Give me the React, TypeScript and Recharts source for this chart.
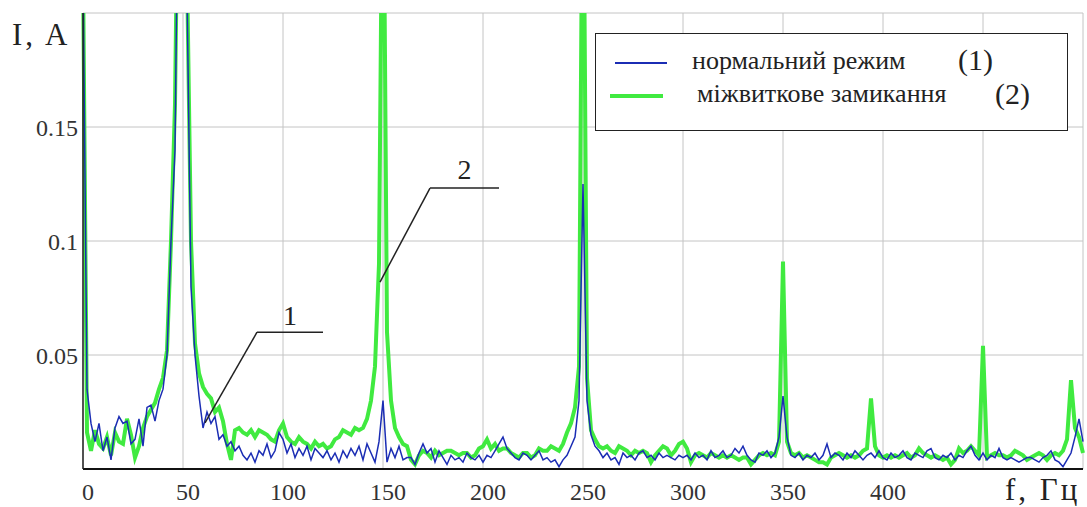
import React from "react";
import {
  LineChart,
  Line,
  XAxis,
  YAxis,
  CartesianGrid,
  Legend,
  ReferenceLine,
} from "recharts";

// spectrum samples, one every FREQ_STEP Hz starting at 0 Hz
const FREQ_STEP = 2;

// (1) normal mode, I in A
const normalMode = [
  0.22, 0.035, 0.02, 0.012, 0.02, 0.008, 0.014, 0.004, 0.018, 0.023,
  0.02, 0.021, 0.011, 0.013, 0.022, 0.01, 0.027, 0.028, 0.021, 0.03,
  0.035, 0.05, 0.1, 0.14, 0.3, 0.3, 0.21, 0.08, 0.05, 0.032,
  0.018, 0.025, 0.02, 0.023, 0.013, 0.015, 0.01, 0.012, 0.008, 0.01,
  0.006, 0.004, 0.007, 0.003, 0.008, 0.006, 0.011, 0.005, 0.008, 0.016,
  0.013, 0.007, 0.011, 0.005, 0.009, 0.006, 0.01, 0.004, 0.009, 0.007,
  0.005, 0.008, 0.004, 0.007, 0.003, 0.008, 0.005, 0.009, 0.006, 0.01,
  0.004, 0.011, 0.007, 0.003, 0.012, 0.03, 0.003, 0.009, 0.005, 0.01,
  0.004, 0.005, 0.005, 0.002, 0.007, 0.011, 0.007, 0.009, 0.003, 0.008,
  0.005, 0.002, 0.006, 0.004, 0.005, 0.003, 0.007, 0.005, 0.004, 0.006,
  0.003, 0.006, 0.005, 0.008, 0.011, 0.014, 0.009, 0.007, 0.005, 0.004,
  0.007, 0.006, 0.004, 0.006, 0.008, 0.004, 0.005, 0.003, 0.004, 0.001,
  0.004, 0.006, 0.01, 0.014, 0.03, 0.125, 0.03, 0.015, 0.01, 0.008,
  0.005, 0.007, 0.004, 0.005, 0.002, 0.007, 0.005, 0.006, 0.004, 0.007,
  0.008, 0.005, 0.006, 0.004, 0.007, 0.005, 0.006, 0.005, 0.004, 0.006,
  0.005, 0.006, 0.004, 0.007, 0.005, 0.006, 0.004, 0.008, 0.005, 0.006,
  0.008, 0.005, 0.006, 0.009, 0.007, 0.01, 0.006, 0.004, 0.003, 0.007,
  0.006, 0.008, 0.005, 0.007, 0.014, 0.032, 0.014, 0.006, 0.005, 0.007,
  0.004, 0.006, 0.005, 0.007, 0.004, 0.006, 0.011, 0.005, 0.007, 0.006,
  0.004, 0.007, 0.005, 0.008, 0.006, 0.004, 0.006, 0.007, 0.005, 0.008,
  0.005, 0.004, 0.007, 0.005, 0.006, 0.008, 0.005, 0.004, 0.007, 0.006,
  0.005, 0.008, 0.009, 0.005, 0.004, 0.006, 0.005, 0.007, 0.004, 0.006,
  0.005, 0.008, 0.01, 0.006, 0.004, 0.007, 0.004, 0.006, 0.005, 0.009,
  0.005, 0.004, 0.005, 0.004, 0.003, 0.004, 0.005, 0.005, 0.004, 0.003,
  0.005, 0.006, 0.008, 0.004, 0.003, 0.001, 0.004, 0.007, 0.014, 0.022,
  0.012,
];

// (2) inter-turn short circuit, I in A
const turnFault = [
  0.22, 0.016, 0.008, 0.017, 0.011, 0.009, 0.014, 0.006, 0.016, 0.012,
  0.011, 0.022, 0.015, 0.005, 0.01, 0.018, 0.023, 0.026, 0.029, 0.035,
  0.04, 0.052, 0.1, 0.16, 0.3, 0.3, 0.22, 0.1, 0.055, 0.042,
  0.036, 0.033, 0.031, 0.025, 0.027, 0.021, 0.011, 0.004, 0.017, 0.018,
  0.016, 0.015, 0.017, 0.014, 0.017, 0.016, 0.015, 0.013, 0.012, 0.017,
  0.02, 0.014, 0.012, 0.011, 0.014, 0.012, 0.011, 0.009, 0.012, 0.01,
  0.011, 0.009, 0.01, 0.013, 0.014, 0.017, 0.016, 0.015, 0.018, 0.017,
  0.018, 0.022, 0.03, 0.045, 0.09, 0.3, 0.06, 0.03, 0.018, 0.014,
  0.011, 0.01, 0.004, 0.002, 0.006, 0.008, 0.007, 0.005, 0.008, 0.006,
  0.007, 0.008, 0.008, 0.007, 0.006, 0.007, 0.007, 0.005, 0.006, 0.009,
  0.01, 0.013, 0.009, 0.011, 0.008, 0.009, 0.009, 0.007, 0.006, 0.005,
  0.007, 0.007, 0.005, 0.006, 0.009, 0.008, 0.008, 0.01, 0.009, 0.008,
  0.011, 0.016, 0.02, 0.027, 0.045, 0.3, 0.04, 0.017, 0.013, 0.01,
  0.009, 0.01, 0.008, 0.007, 0.01, 0.009, 0.008, 0.006, 0.008, 0.007,
  0.008, 0.007, 0.003, 0.006, 0.008, 0.01, 0.009, 0.006, 0.008, 0.011,
  0.012, 0.009, 0.003, 0.006, 0.007, 0.006, 0.005, 0.007, 0.006, 0.005,
  0.006, 0.005, 0.006, 0.005, 0.004, 0.005, 0.005, 0.002, 0.004, 0.006,
  0.007, 0.006, 0.007, 0.006, 0.012, 0.091, 0.012, 0.007, 0.006, 0.007,
  0.005, 0.006, 0.005, 0.004, 0.003, 0.003, 0.002, 0.005, 0.006, 0.007,
  0.006, 0.005, 0.006, 0.005, 0.006, 0.008, 0.009, 0.031, 0.01, 0.006,
  0.005, 0.006, 0.005, 0.006, 0.005, 0.006, 0.007, 0.005, 0.006, 0.009,
  0.007, 0.006, 0.005, 0.006, 0.005, 0.004, 0.005, 0.002, 0.004, 0.009,
  0.007, 0.008, 0.01, 0.008, 0.006, 0.054, 0.005, 0.006, 0.007, 0.006,
  0.006, 0.005, 0.006, 0.008, 0.007, 0.006, 0.004, 0.005, 0.006, 0.007,
  0.006, 0.004, 0.006, 0.007, 0.006, 0.008, 0.013, 0.039, 0.018, 0.014,
  0.007,
];

const xTicks = [0, 50, 100, 150, 200, 250, 300, 350, 400, 450, 500];
const xTickLabels = [0, 50, 100, 150, 200, 250, 300, 350, 400];
const yTicks = [0, 0.05, 0.1, 0.15, 0.2];
const yTickLabels = ["", "0.05", "0.1", "0.15", ""];

// leader lines for the "1" and "2" callouts, in (Hz, A)
const callout1 = [
  { x: 61, y: 0.0202 },
  { x: 87, y: 0.06 },
  { x: 120, y: 0.06 },
];
const callout2 = [
  { x: 148.5, y: 0.082 },
  { x: 173.5, y: 0.1232 },
  { x: 208, y: 0.1232 },
];

const SERIF = '"Liberation Serif", "Times New Roman", serif';
const BLUE = "#1b2db4";
const GREEN = "#40ea40";

const chartData = normalMode.map((v, i) => ({
  f: i * FREQ_STEP,
  normal: v,
  fault: turnFault[i],
}));

const XTick = (props: any) => {
  const { x, y, payload } = props;
  if (!xTickLabels.includes(payload.value)) return <g />;
  return (
    <text x={x + 5} y={y + 31} textAnchor="middle" fill="#333" fontSize={24} fontFamily={SERIF}>
      {payload.value}
    </text>
  );
};

const YTick = (props: any) => {
  const { x, y, payload } = props;
  const label = yTickLabels[yTicks.indexOf(payload.value)] ?? "";
  if (!label) return <g />;
  return (
    <text x={x - 5} y={y + 9} textAnchor="end" fill="#333" fontSize={24} fontFamily={SERIF}>
      {label}
    </text>
  );
};

const LegendBox = () => (
  <div
    style={{
      position: "relative",
      width: 473,
      height: 98,
      boxSizing: "border-box",
      border: "1.5px solid #222",
      background: "#fff",
      fontFamily: SERIF,
      color: "#222",
    }}
  >
    <div style={{ position: "absolute", left: 19, top: 28, width: 52, height: 2, background: BLUE }} />
    <div style={{ position: "absolute", left: 96, top: 12, fontSize: 26, lineHeight: "30px" }}>
      нормальний режим
    </div>
    <div style={{ position: "absolute", left: 362, top: 8, fontSize: 30, lineHeight: "36px" }}>(1)</div>
    <div style={{ position: "absolute", left: 14, top: 60, width: 53, height: 4, background: GREEN }} />
    <div style={{ position: "absolute", left: 101, top: 45, fontSize: 26, lineHeight: "30px" }}>
      міжвиткове замикання
    </div>
    <div style={{ position: "absolute", left: 399, top: 42, fontSize: 30, lineHeight: "36px" }}>(2)</div>
  </div>
);

const App = () => (
  <div style={{ position: "absolute", left: 0, top: 0, width: 1087, height: 507, background: "#fff" }}>
    <LineChart
      width={1087}
      height={507}
      data={chartData}
      margin={{ top: 13, right: 4, left: 23, bottom: 8 }}
    >
      <CartesianGrid stroke="#c4c4c4" strokeWidth={1} />
      <XAxis
        dataKey="f"
        type="number"
        domain={[0, 500]}
        ticks={xTicks}
        height={30}
        tickLine={false}
        tickSize={0}
        tickMargin={0}
        tick={<XTick />}
        axisLine={{ stroke: "#111", strokeWidth: 2 }}
        label={{
          content: (p: any) => (
            <text
              x={p.viewBox.x + 922}
              y={p.viewBox.y + 31}
              fontSize={31}
              letterSpacing={3}
              fontFamily={SERIF}
              fill="#222"
            >
              f, Гц
            </text>
          ),
        }}
      />
      <XAxis
        xAxisId="top"
        orientation="top"
        dataKey="f"
        type="number"
        domain={[0, 500]}
        height={0}
        tick={false}
        tickLine={false}
        axisLine={{ stroke: "#222", strokeWidth: 1.5 }}
      />
      <YAxis
        type="number"
        domain={[0, 0.2]}
        ticks={yTicks}
        allowDataOverflow
        width={60}
        tickLine={false}
        tickSize={0}
        tickMargin={0}
        tick={<YTick />}
        axisLine={{ stroke: "#222", strokeWidth: 1.5 }}
        label={{
          content: (p: any) => (
            <text
              x={p.viewBox.x - 11}
              y={p.viewBox.y + 32}
              fontSize={31}
              letterSpacing={3}
              fontFamily={SERIF}
              fill="#222"
            >
              I, A
            </text>
          ),
        }}
      />
      <YAxis
        yAxisId="right"
        orientation="right"
        type="number"
        domain={[0, 0.2]}
        width={0}
        tick={false}
        tickLine={false}
        axisLine={{ stroke: "#222", strokeWidth: 1.5 }}
      />
      <Line
        type="linear"
        dataKey="fault"
        name="міжвиткове замикання"
        stroke={GREEN}
        strokeWidth={4}
        dot={false}
        activeDot={false}
        isAnimationActive={false}
      />
      <Line
        type="linear"
        dataKey="normal"
        name="нормальний режим"
        stroke={BLUE}
        strokeWidth={1.5}
        dot={false}
        activeDot={false}
        isAnimationActive={false}
      />
      <ReferenceLine segment={[callout1[0], callout1[1]]} stroke="#222" strokeWidth={1.5} ifOverflow="visible" />
      <ReferenceLine
        segment={[callout1[1], callout1[2]]}
        stroke="#222"
        strokeWidth={1.5}
        ifOverflow="visible"
        label={{ value: "1", position: "top", offset: 7, fontSize: 28, fontFamily: SERIF, fill: "#222" }}
      />
      <ReferenceLine segment={[callout2[0], callout2[1]]} stroke="#222" strokeWidth={1.5} ifOverflow="visible" />
      <ReferenceLine
        segment={[callout2[1], callout2[2]]}
        stroke="#222"
        strokeWidth={1.5}
        ifOverflow="visible"
        label={{ value: "2", position: "top", offset: 9, fontSize: 28, fontFamily: SERIF, fill: "#222" }}
      />
      <Legend
        layout="vertical"
        align="center"
        verticalAlign="middle"
        content={<LegendBox />}
        wrapperStyle={{ left: 595, top: 33, width: 473, height: 98 }}
      />
    </LineChart>
  </div>
);

export default App;
